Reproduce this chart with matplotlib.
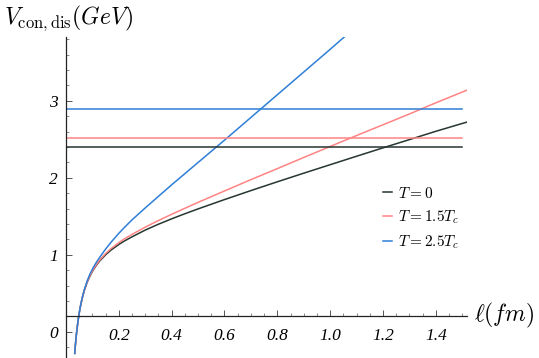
import matplotlib
matplotlib.use("Agg")
import matplotlib.pyplot as plt
from matplotlib.ticker import MultipleLocator

plt.rcParams["mathtext.fontset"] = "cm"

# separation l (fm)
ell = [0.033, 0.036, 0.040, 0.045, 0.050, 0.055, 0.060, 0.065, 0.070, 0.080,
       0.090, 0.100, 0.110, 0.120, 0.130, 0.150, 0.170, 0.200, 0.220, 0.250,
       0.300, 0.350, 0.400, 0.450, 0.500, 0.600, 0.700, 0.800, 0.900, 1.000,
       1.100, 1.200, 1.300, 1.400, 1.518]

# connected potential for each temperature
v_t0 = [-0.280, -0.153, -0.013, 0.128, 0.243, 0.337, 0.416, 0.484, 0.544, 0.642,
        0.720, 0.785, 0.840, 0.888, 0.930, 1.001, 1.061, 1.135, 1.178, 1.234,
        1.322, 1.398, 1.468, 1.534, 1.597, 1.718, 1.835, 1.949, 2.061, 2.171,
        2.281, 2.390, 2.497, 2.605, 2.725]
v_t15 = [-0.280, -0.153, -0.013, 0.128, 0.243, 0.338, 0.418, 0.487, 0.548, 0.647,
         0.726, 0.792, 0.849, 0.899, 0.943, 1.017, 1.080, 1.158, 1.205, 1.266,
         1.360, 1.446, 1.527, 1.605, 1.682, 1.830, 1.977, 2.120, 2.265, 2.408,
         2.550, 2.690, 2.830, 2.975, 3.140]
ell_t25 = [0.033, 0.036, 0.040, 0.045, 0.050, 0.055, 0.060, 0.065, 0.070, 0.080,
           0.090, 0.100, 0.110, 0.120, 0.130, 0.150, 0.170, 0.200, 0.220, 0.250,
           0.300, 0.350, 0.400, 0.450, 0.500, 0.600, 0.700, 0.800, 0.900, 1.000,
           1.060]
v_t25 = [-0.280, -0.153, -0.013, 0.128, 0.244, 0.340, 0.421, 0.492, 0.555, 0.660,
         0.745, 0.815, 0.876, 0.930, 0.980, 1.075, 1.162, 1.280, 1.352, 1.455,
         1.610, 1.760, 1.910, 2.055, 2.200, 2.490, 2.785, 3.080, 3.375, 3.670,
         3.850]

# disconnected potential (constant)
v_dis = {"t0": 2.40, "t15": 2.515, "t25": 2.89}
ell_dis = [0.0, 1.5]

labels = ["$T=0$", "$T=1.5T_c$", "$T=2.5T_c$"]
colors = ["#27362f", "#ff8383", "#2e7fd6"]

fig = plt.figure(figsize=(5.39, 3.58), dpi=100)
ax = fig.add_axes([66 / 539, 0.0, 401 / 539, 321 / 358])

ax.plot(ell, v_t0, color=colors[0], lw=1.1, label=labels[0])
ax.plot(ell, v_t15, color=colors[1], lw=1.1, label=labels[1])
ax.plot(ell_t25, v_t25, color=colors[2], lw=1.1, label=labels[2])

for key, c in zip(["t0", "t15", "t25"], colors):
    ax.plot(ell_dis, [v_dis[key]] * 2, color=c, lw=1.1)

ax.set_xlim(0, 1.518)
ax.set_ylim(-0.34, 3.83)

# Mathematica style axes crossing at (0, 0.2)
ax.spines["left"].set_position(("data", 0))
ax.spines["bottom"].set_position(("data", 0.2))
ax.spines["top"].set_visible(False)
ax.spines["right"].set_visible(False)
for s in ["left", "bottom"]:
    ax.spines[s].set_color("#222222")
    ax.spines[s].set_linewidth(0.9)

ax.xaxis.set_minor_locator(MultipleLocator(0.05))
ax.yaxis.set_minor_locator(MultipleLocator(0.2))
ax.set_xticks([0.2, 0.4, 0.6, 0.8, 1.0, 1.2, 1.4])
ax.set_xticklabels(["0.2", "0.4", "0.6", "0.8", "1.0", "1.2", "1.4"])
ax.set_yticks([0, 1, 2, 3])
ax.tick_params(which="major", direction="in", length=4, width=0.7, color="#555555")
ax.tick_params(which="minor", direction="in", length=2, width=0.6, color="#777777")
ax.tick_params(axis="x", pad=8)
ax.tick_params(axis="y", pad=6)
for lab in ax.get_xticklabels() + ax.get_yticklabels():
    lab.set_family("Liberation Serif")
    lab.set_style("italic")
    lab.set_fontsize(12.5)

fig.text(0.008, 0.95, r"$V_{\rm con,dis}(GeV)$", fontsize=17, ha="left", va="center")
fig.text(0.88, 0.12, r"$\ell(fm)$", fontsize=17, ha="left", va="center")

ax.legend(loc="upper left", bbox_to_anchor=(0.755, 0.58), frameon=False,
          handlelength=0.6, handletextpad=0.4, labelspacing=0.5, fontsize=11)

fig.savefig("out.png", dpi=100)
